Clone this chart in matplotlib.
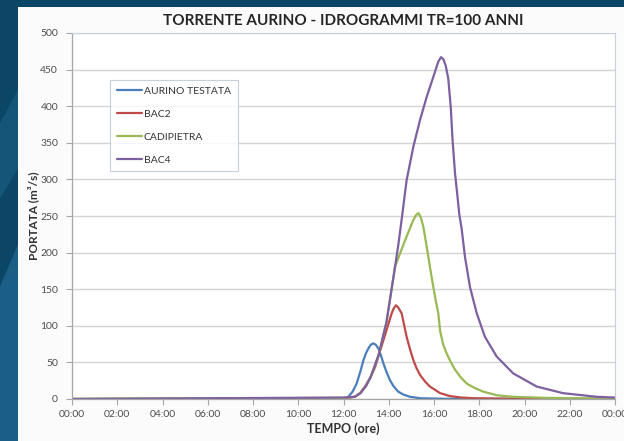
import matplotlib
matplotlib.use("Agg")
import matplotlib.pyplot as plt
from matplotlib.patches import Rectangle, Polygon

# hydrographs (time in hours, discharge in m3/s)
t_aurino = [0, 10, 12.0, 12.21, 12.4, 12.58, 12.75, 12.88, 13.0, 13.1, 13.2, 13.32, 13.43, 13.54, 13.65, 13.76, 13.9,
            14.05, 14.2, 14.42, 14.65, 14.94, 15.4, 16.5, 24]
q_aurino = [0, 0.3, 0.6, 3, 10, 21, 38, 53, 63, 69, 74, 76, 74, 69, 60, 49, 37, 26, 18, 10, 6, 3, 1, 0.3, 0]

t_bac2 = [0, 8, 12.0, 12.5, 12.73, 12.95, 13.2, 13.4, 13.54, 13.7, 13.9, 14.02, 14.13, 14.22, 14.32, 14.42, 14.57, 14.68,
          14.79, 14.94, 15.09, 15.23, 15.38, 15.6, 15.82, 16.27, 16.7, 17.2, 17.8, 19, 24]
q_bac2 = [0, 0.5, 1, 3, 8, 17, 30, 44, 58, 74, 94, 106, 117, 124, 128, 125, 117, 101, 85, 68, 53, 42, 33, 24, 17, 8, 4, 2, 1, 0.5, 0]

t_cadipietra = [0, 6, 12.0, 12.5, 12.75, 13.0, 13.2, 13.55, 13.9, 14.05, 14.28, 14.5, 14.79, 15.08, 15.2, 15.31, 15.42,
                15.53, 15.64, 15.75, 15.86, 15.97, 16.08, 16.19, 16.27, 16.4, 16.56, 16.75, 16.93, 17.2, 17.45, 17.8,
                18.18, 18.8, 19.5, 21, 24]
q_cadipietra = [0, 1, 1.5, 3, 8, 18, 30, 60, 105, 135, 181, 199, 222, 244, 251, 254, 248, 235, 215, 194, 173, 153, 134,
                117, 93, 75, 62, 50, 40, 29, 21, 15, 10, 5, 3, 1.5, 0.5]

t_bac4 = [0, 6, 12.0, 12.5, 12.75, 13.0, 13.2, 13.55, 13.9, 14.05, 14.28, 14.42, 14.57, 14.79, 15.09, 15.38, 15.68, 15.97,
          16.19, 16.31, 16.42, 16.52, 16.63, 16.74, 16.82, 16.93, 17.02, 17.12, 17.22, 17.37, 17.59, 17.89, 18.25,
          18.77, 19.5, 20.54, 21.7, 23.2, 24]
q_bac4 = [0, 1, 2, 3, 8, 18, 30, 60, 105, 135, 181, 210, 245, 299, 345, 381, 413, 440, 461, 467, 464, 455, 438, 399, 354,
          308, 282, 252, 233, 194, 153, 117, 85, 58, 35, 17, 8, 3, 2]

series = ["AURINO TESTATA", "BAC2", "CADIPIETRA", "BAC4"]
colors = ["#4A7EBB", "#BE4B48", "#98B954", "#7D60A0"]

x_ticks = list(range(0, 25, 2))
x_labels = ["%02d:00" % (h % 24) for h in x_ticks]

plt.rcParams["font.family"] = ["Lato", "DejaVu Sans"]

fig = plt.figure(figsize=(6.24, 4.41), dpi=100)
fig.patch.set_facecolor("#0c4667")

# background swoosh + white chart box (behind the axes)
fig.patches.append(Polygon([[0, 0], [0.03, 0], [0.03, 0.45], [0, 0.35]], closed=True,
                           transform=fig.transFigure, facecolor="#1c5f86", edgecolor="none", zorder=-10))
fig.patches.append(Polygon([[0, 0.55], [0.03, 0.62], [0.03, 0.8], [0, 0.72]], closed=True,
                           transform=fig.transFigure, facecolor="#155577", edgecolor="none", zorder=-10))
fig.patches.append(Rectangle((18 / 624, 0), 1, 1 - 7 / 441, transform=fig.transFigure,
                             facecolor="#fbfbfb", edgecolor="none", zorder=-10))

ax = fig.add_axes([72 / 624, 42 / 441, 543 / 624, 366 / 441])
ax.set_facecolor("white")

data = [(t_aurino, q_aurino), (t_bac2, q_bac2), (t_cadipietra, q_cadipietra), (t_bac4, q_bac4)]
for (t, q), name, c in zip(data, series, colors):
    ax.plot(t, q, color=c, lw=1.6, label=name, solid_joinstyle="round", solid_capstyle="round")

ax.set_xlim(0, 24)
ax.set_ylim(0, 500)
ax.set_yticks(range(0, 501, 50))
ax.set_xticks(x_ticks)
ax.set_xticklabels(x_labels)
ax.grid(axis="y", color="#d4d4d4", lw=1)
ax.set_axisbelow(True)
for s in ["top", "right"]:
    ax.spines[s].set_color("#c8d0dc")
    ax.spines[s].set_linewidth(0.8)
for s in ["left", "bottom"]:
    ax.spines[s].set_color("#a6a6a6")
    ax.spines[s].set_linewidth(0.9)
ax.tick_params(axis="both", labelsize=7.5, colors="#a6a6a6", labelcolor="#4d4d4d", length=4, width=0.8)
ax.tick_params(axis="y", pad=6)
ax.tick_params(axis="x", pad=4)

ax.set_title("TORRENTE AURINO - IDROGRAMMI TR=100 ANNI", fontsize=11, fontweight="bold",
             color="#262626", pad=6)
ax.set_xlabel("TEMPO (ore)", fontsize=9, fontweight="bold", color="#333333", labelpad=2)
ax.set_ylabel("PORTATA (m³/s)", fontsize=8.5, fontweight="bold", color="#333333", labelpad=1)

leg = ax.legend(loc="upper left", bbox_to_anchor=(38 / 543, 319 / 366), fontsize=7.5, frameon=True,
                fancybox=False, handlelength=2.4, handletextpad=0.2, labelspacing=1.3,
                borderpad=0.65, borderaxespad=0)
leg.get_frame().set_edgecolor("#b9c3d3")
leg.get_frame().set_linewidth(0.8)
for txt in leg.get_texts():
    txt.set_color("#333333")

fig.savefig("out.png", dpi=100, facecolor=fig.get_facecolor())
